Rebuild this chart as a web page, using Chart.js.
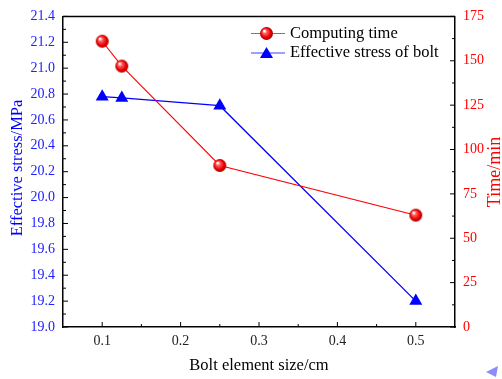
<!DOCTYPE html>
<html>
<head>
<meta charset="utf-8">
<script src="https://cdn.jsdelivr.net/npm/chart.js@4.4.0/dist/chart.umd.min.js"></script>
<style>
  html, body { margin: 0; background: #fff; }
  #wrap { width: 502px; height: 379px; }
</style>
</head>
<body>
<div id="wrap"><canvas id="myChart"></canvas></div>
<script>
// data
const sizes = [0.1, 0.125, 0.25, 0.5];
const computingTime = [161, 147, 91, 63];
const effectiveStress = [20.78, 20.77, 20.71, 19.20];
const xTicks = [0.1, 0.2, 0.3, 0.4, 0.5];

const FONT = "'Liberation Serif', 'Times New Roman', serif";
const BLUE = '#0000ff';
const RED = '#ff0000';

// red ball marker
function makeBall(r) {
  const c = document.createElement('canvas');
  c.width = c.height = r * 2 + 2;
  const g = c.getContext('2d');
  const cx = r + 1;
  const grad = g.createRadialGradient(cx - r * 0.35, cx - r * 0.4, r * 0.1, cx, cx, r);
  grad.addColorStop(0, '#ffffff');
  grad.addColorStop(0.25, '#ff6060');
  grad.addColorStop(0.7, '#ee0000');
  grad.addColorStop(1, '#a00000');
  g.fillStyle = grad;
  g.beginPath();
  g.arc(cx, cx, r, 0, Math.PI * 2);
  g.fill();
  return c;
}
const ball = makeBall(6.5);

const timeData = sizes.map((x, i) => ({ x: x, y: computingTime[i] }));
const stressData = sizes.map((x, i) => ({ x: x, y: effectiveStress[i] }));

// ticks inward, top border, titles, legend
const decor = {
  id: 'decor',
  afterDraw(chart) {
    const ctx = chart.ctx;
    const a = chart.chartArea;
    const sx = chart.scales.x, sy = chart.scales.y, sy1 = chart.scales.y1;
    ctx.save();
    ctx.strokeStyle = '#000';
    ctx.lineWidth = 1.5;
    ctx.beginPath();
    ctx.moveTo(a.left, a.top);
    ctx.lineTo(a.right, a.top);
    ctx.stroke();

    ctx.lineWidth = 1;
    ctx.beginPath();
    for (let i = 0; i <= 24; i++) {
      const y = sy.getPixelForValue(19 + i * 0.1);
      const len = i % 2 === 0 ? 5 : 3;
      ctx.moveTo(a.left, y); ctx.lineTo(a.left + len, y);
    }
    for (let i = 0; i <= 14; i++) {
      const y = sy1.getPixelForValue(i * 12.5);
      const len = i % 2 === 0 ? 5 : 3;
      ctx.moveTo(a.right, y); ctx.lineTo(a.right - len, y);
    }
    for (let i = 2; i <= 10; i++) {
      const x = sx.getPixelForValue(i * 0.05);
      const len = i % 2 === 0 ? 5 : 3;
      ctx.moveTo(x, a.bottom); ctx.lineTo(x, a.bottom - len);
    }
    ctx.stroke();

    // axis titles
    ctx.font = '16.5px ' + FONT;
    ctx.textAlign = 'center';
    ctx.textBaseline = 'middle';
    ctx.fillStyle = '#000';
    ctx.fillText('Bolt element size/cm', (a.left + a.right) / 2, 366);
    ctx.save();
    ctx.translate(18, 168);
    ctx.rotate(-Math.PI / 2);
    ctx.fillStyle = BLUE;
    ctx.fillText('Effective stress/MPa', 0, 0);
    ctx.restore();
    ctx.save();
    ctx.font = '18px ' + FONT;
    ctx.translate(495, 172);
    ctx.rotate(-Math.PI / 2);
    ctx.fillStyle = RED;
    ctx.fillText('Time/min', 0, 0);
    ctx.restore();

    // legend
    const rows = [
      { label: 'Computing time', color: RED, y: 33.5, ball: true },
      { label: 'Effective stress of bolt', color: BLUE, y: 53, ball: false }
    ];
    rows.forEach(r => {
      ctx.strokeStyle = r.color;
      ctx.globalAlpha = 0.75;
      ctx.lineWidth = 1.2;
      ctx.beginPath();
      ctx.moveTo(251, r.y); ctx.lineTo(285, r.y);
      ctx.stroke();
      ctx.globalAlpha = 1;
      if (r.ball) {
        ctx.drawImage(ball, 266.5 - ball.width / 2, r.y - ball.height / 2);
      } else {
        ctx.fillStyle = BLUE;
        ctx.beginPath();
        ctx.moveTo(266.5, r.y - 6);
        ctx.lineTo(273, r.y + 5);
        ctx.lineTo(260, r.y + 5);
        ctx.closePath();
        ctx.fill();
      }
      ctx.fillStyle = '#000';
      ctx.textAlign = 'left';
      ctx.fillText(r.label, 290, r.y);
    });

    // small arrow at the corner
    ctx.fillStyle = '#8c8cff';
    ctx.beginPath();
    ctx.moveTo(486, 372);
    ctx.lineTo(498, 366);
    ctx.lineTo(496, 377);
    ctx.closePath();
    ctx.fill();
    ctx.restore();
  }
};

new Chart(document.getElementById('myChart'), {
  type: 'line',
  data: {
    datasets: [
      {
        label: 'Computing time',
        data: timeData,
        yAxisID: 'y1',
        borderColor: RED,
        borderWidth: 1.1,
        pointStyle: ball,
        pointRadius: 6.5,
        pointHoverRadius: 6.5
      },
      {
        label: 'Effective stress of bolt',
        data: stressData,
        yAxisID: 'y',
        borderColor: BLUE,
        backgroundColor: BLUE,
        borderWidth: 1.3,
        pointStyle: 'triangle',
        pointRadius: 7.5,
        pointHoverRadius: 7.5,
        pointBorderWidth: 0
      }
    ]
  },
  options: {
    responsive: true,
    maintainAspectRatio: false,
    animation: false,
    layout: { padding: { top: 11, left: 0, right: 0, bottom: 0 } },
    plugins: { legend: { display: false }, tooltip: { enabled: false } },
    scales: {
      x: {
        type: 'linear',
        min: 0.05,
        max: 0.55,
        afterBuildTicks: s => { s.ticks = xTicks.map(v => ({ value: v })); },
        afterFit: s => { s.height = 52; },
        ticks: { font: { family: FONT, size: 14 }, color: '#222', padding: 6, callback: v => v.toFixed(1) },
        grid: { display: false, drawTicks: false },
        border: { display: true, color: '#000', width: 1.5 }
      },
      y: {
        position: 'left',
        min: 19,
        max: 21.4,
        afterFit: s => { s.width = 63; },
        ticks: { stepSize: 0.2, font: { family: FONT, size: 14 }, color: '#2020ff', padding: 8, callback: v => v.toFixed(1) },
        grid: { display: false, drawTicks: false },
        border: { display: true, color: '#000', width: 1.5 }
      },
      y1: {
        position: 'right',
        min: 0,
        max: 175,
        afterFit: s => { s.width = 47; },
        ticks: { stepSize: 25, font: { family: FONT, size: 14 }, color: RED, padding: 8 },
        grid: { display: false, drawTicks: false },
        border: { display: true, color: '#000', width: 1.5 }
      }
    }
  },
  plugins: [decor]
});
</script>
</body>
</html>
